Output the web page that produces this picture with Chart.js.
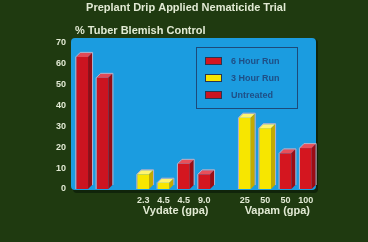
<!DOCTYPE html>
<html>
<head>
<meta charset="utf-8">
<script src="https://cdn.jsdelivr.net/npm/chart.js@4.4.1/dist/chart.umd.min.js"></script>
<style>
  html, body { margin: 0; padding: 0; background: #1f3a10; }
  #wrap { width: 368px; height: 242px; }
</style>
</head>
<body>
<div id="wrap"><canvas id="trialChart" width="368" height="242"></canvas></div>
<script>
// categories (empty slots are gaps between groups)
const rateLabels = ["", "", "", "2.3", "4.5", "4.5", "9.0", "", "25", "50", "50", "100"];
const groupLabels = [
  { text: "Vydate (gpa)", from: 3, to: 6 },
  { text: "Vapam (gpa)", from: 8, to: 11 }
];
const sixHourRun = [null, null, null, null, null, 12, 7, null, null, null, 17, 19.5];
const threeHourRun = [null, null, null, 7, 3, null, null, null, 34, 29, null, null];
const untreated = [63, 53, null, null, null, null, null, null, null, null, null, null];
const yTicks = [0, 10, 20, 30, 40, 50, 60, 70];

const titleText = "Preplant Drip Applied Nematicide Trial";
const subtitleText = "% Tuber Blemish Control";
const lightText = "#e2ead4";

// blue plot panel behind the bars
const panelPlugin = {
  id: "panel",
  beforeDatasetsDraw(chart) {
    const { ctx, chartArea } = chart;
    ctx.save();
    ctx.fillStyle = "#10240a";
    ctx.beginPath();
    ctx.roundRect(chartArea.left + 1, chartArea.top + 1, chartArea.right - chartArea.left + 1, chartArea.bottom - chartArea.top + 3, 4);
    ctx.fill();
    ctx.fillStyle = "#1b9ce0";
    ctx.beginPath();
    ctx.roundRect(chartArea.left - 1, chartArea.top, chartArea.right - chartArea.left + 1, chartArea.bottom - chartArea.top + 1, 4);
    ctx.fill();
    ctx.restore();
  }
};

// fake 3D depth on each bar
const depthPlugin = {
  id: "depth",
  afterDatasetsDraw(chart) {
    const { ctx } = chart;
    const d = 4;
    chart.data.datasets.forEach((ds, i) => {
      const meta = chart.getDatasetMeta(i);
      meta.data.forEach((bar, j) => {
        if (ds.data[j] === null) return;
        const { x, y, base, width } = bar.getProps(["x", "y", "base", "width"], true);
        const l = x - width / 2;
        const r = x + width / 2;
        ctx.save();
        ctx.fillStyle = ds.topColor;
        ctx.beginPath();
        ctx.moveTo(l, y);
        ctx.lineTo(l + d, y - d);
        ctx.lineTo(r + d, y - d);
        ctx.lineTo(r, y);
        ctx.closePath();
        ctx.fill();
        ctx.fillStyle = ds.sideColor;
        ctx.beginPath();
        ctx.moveTo(r, y);
        ctx.lineTo(r + d, y - d);
        ctx.lineTo(r + d, base - d);
        ctx.lineTo(r, base);
        ctx.closePath();
        ctx.fill();
        ctx.strokeStyle = "rgba(214, 180, 196, 0.85)";
        ctx.lineWidth = 1;
        ctx.beginPath();
        ctx.moveTo(l - 0.5, base);
        ctx.lineTo(l - 0.5, y);
        ctx.lineTo(l + d, y - d - 0.5);
        ctx.lineTo(r + d + 0.5, y - d - 0.5);
        ctx.lineTo(r + d + 0.5, base - d);
        ctx.stroke();
        ctx.restore();
      });
    });
  }
};

// titles, group labels and boxed legend
const textPlugin = {
  id: "texts",
  afterDraw(chart) {
    const { ctx, chartArea, scales } = chart;
    ctx.save();
    ctx.fillStyle = lightText;
    ctx.textBaseline = "middle";
    ctx.font = "bold 11px 'Liberation Sans', Arial, sans-serif";
    ctx.textAlign = "center";
    ctx.fillText(titleText, 186, 8);
    ctx.textAlign = "left";
    ctx.fillText(subtitleText, 75, 31);

    ctx.textAlign = "center";
    ctx.font = "bold 11px 'Liberation Sans', Arial, sans-serif";
    groupLabels.forEach(g => {
      const cx = (scales.x.getPixelForTick(g.from) + scales.x.getPixelForTick(g.to)) / 2 + 2;
      ctx.fillText(g.text, cx, 211);
    });

    // legend box
    ctx.strokeStyle = "#1d4a7a";
    ctx.lineWidth = 1;
    ctx.strokeRect(196.5, 47.5, 101, 61);
    ctx.font = "bold 9px 'Liberation Sans', Arial, sans-serif";
    ctx.textAlign = "left";
    chart.data.datasets.forEach((ds, i) => {
      const cy = 61 + i * 17;
      ctx.fillStyle = ds.backgroundColor;
      ctx.fillRect(205, cy - 4, 17, 8);
      ctx.strokeStyle = "#2a3550";
      ctx.strokeRect(205.5, cy - 3.5, 16, 7);
      ctx.fillStyle = "#1f4f86";
      ctx.fillText(ds.label, 231, cy + 0.5);
    });
    ctx.restore();
  }
};

const trialCtx = document.getElementById("trialChart").getContext("2d");

new Chart(trialCtx, {
  type: "bar",
  data: {
    labels: rateLabels,
    datasets: [
      {
        label: "6 Hour Run",
        data: sixHourRun,
        backgroundColor: "#d4161f",
        topColor: "#e8505a",
        sideColor: "#9c0c14"
      },
      {
        label: "3 Hour Run",
        data: threeHourRun,
        backgroundColor: "#f7e600",
        topColor: "#fff470",
        sideColor: "#c4aa00"
      },
      {
        label: "Untreated",
        data: untreated,
        backgroundColor: "#cc1420",
        topColor: "#e04a56",
        sideColor: "#940c14"
      }
    ]
  },
  options: {
    responsive: false,
    animation: false,
    grouped: false,
    categoryPercentage: 1,
    barPercentage: 0.58,
    layout: {
      padding: { top: 38, right: 52, left: 0, bottom: 0 }
    },
    plugins: {
      legend: { display: false },
      tooltip: { enabled: false }
    },
    scales: {
      x: {
        grid: { display: false, drawTicks: false },
        border: { display: false },
        ticks: {
          color: lightText,
          padding: 6,
          maxRotation: 0,
          autoSkip: false,
          font: { family: "'Liberation Sans', Arial, sans-serif", size: 9, weight: "bold" }
        },
        afterFit(scale) { scale.height = 53; }
      },
      y: {
        min: 0,
        max: 72,
        afterBuildTicks(scale) {
          scale.ticks = yTicks.map(v => ({ value: v }));
        },
        grid: { display: false, drawTicks: false },
        border: { display: false },
        ticks: {
          color: lightText,
          padding: 6,
          includeBounds: false,
          font: { family: "'Liberation Sans', Arial, sans-serif", size: 9, weight: "bold" }
        },
        afterFit(scale) { scale.width = 72; }
      }
    }
  },
  plugins: [panelPlugin, depthPlugin, textPlugin]
});
</script>
</body>
</html>
